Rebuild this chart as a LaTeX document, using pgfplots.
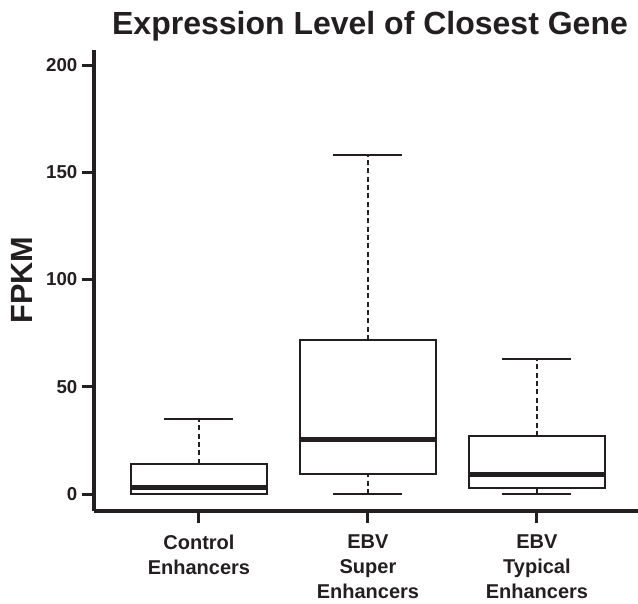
\documentclass[border=0pt]{standalone}
\usepackage{fontspec}
\setmainfont{Liberation Sans}
\usepackage{pgfplots}
\pgfplotsset{compat=1.18}
\definecolor{ink}{HTML}{231F20}
\begin{document}
\begin{tikzpicture}
\pgfplotsset{
  boxline/.style={ink, line width=1.5pt, no markers, line join=miter},
  whisk/.style={ink, line width=1.4pt, no markers, dash pattern=on 3.75pt off 2.5pt},
  med/.style={ink, line width=3.4pt, no markers},
}
\begin{axis}[
  scale only axis,
  width=408pt, height=345.75pt,
  xmin=0.379, xmax=3.598,
  ymin=-7.9, ymax=207,
  axis lines=left,
  axis line style={-, line width=2.6pt, ink},
  tick style={line width=2.25pt, ink},
  major tick length=9pt,
  tick align=outside,
  xtick={1,2,3},
  xticklabels={Control\\Enhancers, EBV\\Super\\Enhancers, EBV\\Typical\\Enhancers},
  ytick={0,50,100,150,200},
  /pgf/number format/assume math mode=true,
  yticklabel style={font=\fontsize{14}{16}\selectfont\bfseries, text=ink},
  xticklabel style={align=center, font=\fontsize{15}{18.75}\selectfont\bfseries, text=ink, yshift=-5.5pt},
  title={Expression Level of Closest Gene},
  title style={at={(axis description cs:0.5,1)}, anchor=base, yshift=5.5pt, xshift=3pt,
    font=\fontsize{24}{26}\selectfont\bfseries, text=ink},
  ylabel={FPKM},
  ylabel style={at={(axis description cs:-0.1324,0.501)}, anchor=center,
    font=\fontsize{23}{26}\selectfont\bfseries, text=ink},
  clip=false,
]
% Control Enhancers: lw 0, q1 0.2, med 3.1, q3 14.1, uw 35
\addplot[whisk] coordinates {(1,14.1) (1,35)};
\addplot[boxline] coordinates {(0.796,35) (1.204,35)};
\addplot[boxline] coordinates {(0.796,0) (1.204,0)};
\addplot[boxline] coordinates {(0.5975,0.2) (1.4025,0.2) (1.4025,14.1) (0.5975,14.1)} -- cycle;
\addplot[med] coordinates {(0.5975,3.1) (1.4025,3.1)};
% EBV Super Enhancers: lw 0, q1 9.3, med 25.5, q3 71.8, uw 158
\addplot[whisk] coordinates {(2,71.8) (2,158)};
\addplot[whisk] coordinates {(2,0) (2,9.3)};
\addplot[boxline] coordinates {(1.796,158) (2.204,158)};
\addplot[boxline] coordinates {(1.796,0) (2.204,0)};
\addplot[boxline] coordinates {(1.5975,9.3) (2.4025,9.3) (2.4025,71.8) (1.5975,71.8)} -- cycle;
\addplot[med] coordinates {(1.5975,25.5) (2.4025,25.5)};
% EBV Typical Enhancers: lw 0, q1 2.7, med 9.2, q3 27, uw 63
\addplot[whisk] coordinates {(3,27) (3,63)};
\addplot[boxline] coordinates {(3,0) (3,2.7)};
\addplot[boxline] coordinates {(2.796,63) (3.204,63)};
\addplot[boxline] coordinates {(2.796,0) (3.204,0)};
\addplot[boxline] coordinates {(2.5975,2.7) (3.4025,2.7) (3.4025,27) (2.5975,27)} -- cycle;
\addplot[med] coordinates {(2.5975,9.2) (3.4025,9.2)};
\end{axis}
\pgfresetboundingbox
\path (current axis.south west) ++(-70.5pt,-69pt) rectangle ++(478.5pt,452.25pt);
\end{tikzpicture}
\end{document}
